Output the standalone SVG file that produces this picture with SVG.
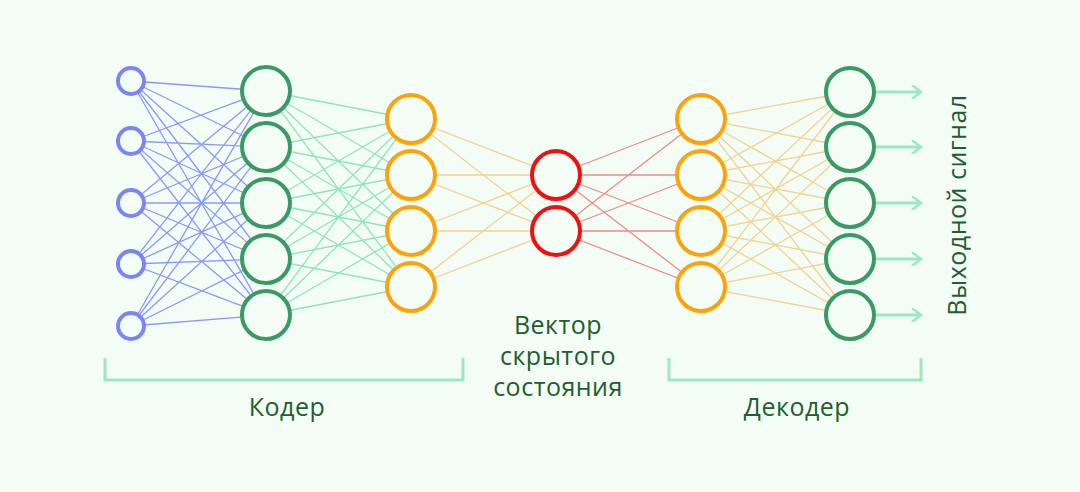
<svg xmlns="http://www.w3.org/2000/svg" width="1080" height="492" viewBox="0 0 1080 492">
<style>
.bg{fill:#f4fdf5}
.n{fill:#f4fdf5;stroke-width:4}
.b{stroke:#7a86f5}.g{stroke:#3a9a64}.o{stroke:#f9a40c}.r{stroke:#ee1111}
.lb{stroke:#8a99f7;stroke-width:1.3}
.lg{stroke:#8ee6b7;stroke-width:1.3}
.lo{stroke:#f1d28f;stroke-width:1.3}
.lr{stroke:#ef8a8a;stroke-width:1.3}
.br{fill:none;stroke:#9de8c0;stroke-width:3}
.t{font-family:"Open Sans",Roboto,"Liberation Sans",sans-serif;font-size:25px;fill:#1d5e2e;text-anchor:middle;letter-spacing:0.5px}
</style>
<defs><marker id="ah" markerWidth="14" markerHeight="14" refX="11" refY="7" orient="auto" markerUnits="userSpaceOnUse"><path d="M2,0 L11,7 L2,14" fill="none" stroke="#9de8c0" stroke-width="2.5"/></marker></defs>
<rect class="bg" width="1080" height="492"/>
<g id="connectors">
<g class="lb">
<path d="M131,81L266,91M131,81L266,147M131,81L266,203M131,81L266,259M131,81L266,315M131,141L266,91M131,141L266,147M131,141L266,203M131,141L266,259M131,141L266,315M131,203L266,91M131,203L266,147M131,203L266,203M131,203L266,259M131,203L266,315M131,264L266,91M131,264L266,147M131,264L266,203M131,264L266,259M131,264L266,315M131,326L266,91M131,326L266,147M131,326L266,203M131,326L266,259M131,326L266,315"/>
</g>
<g class="lg">
<path d="M266,91L411,119M266,91L411,175M266,91L411,231M266,91L411,287M266,147L411,119M266,147L411,175M266,147L411,231M266,147L411,287M266,203L411,119M266,203L411,175M266,203L411,231M266,203L411,287M266,259L411,119M266,259L411,175M266,259L411,231M266,259L411,287M266,315L411,119M266,315L411,175M266,315L411,231M266,315L411,287"/>
</g>
<g class="lo">
<path d="M411,119L556,175M411,119L556,231M411,175L556,175M411,175L556,231M411,231L556,175M411,231L556,231M411,287L556,175M411,287L556,231"/>
<path d="M701,119L850,92M701,119L850,147M701,119L850,203M701,119L850,259M701,119L850,315M701,175L850,92M701,175L850,147M701,175L850,203M701,175L850,259M701,175L850,315M701,231L850,92M701,231L850,147M701,231L850,203M701,231L850,259M701,231L850,315M701,287L850,92M701,287L850,147M701,287L850,203M701,287L850,259M701,287L850,315"/>
</g>
<g class="lr">
<path d="M556,175L701,119M556,175L701,175M556,175L701,231M556,175L701,287M556,231L701,119M556,231L701,175M556,231L701,231M556,231L701,287"/>
</g>
<g stroke="#9de8c0" stroke-width="3" marker-end="url(#ah)">
<line x1="876" y1="92" x2="921" y2="92"/><line x1="876" y1="147" x2="921" y2="147"/><line x1="876" y1="203" x2="921" y2="203"/><line x1="876" y1="259" x2="921" y2="259"/><line x1="876" y1="315" x2="921" y2="315"/>
</g>
</g>
<g id="input"><circle class="n b" cx="131" cy="81" r="13"/><circle class="n b" cx="131" cy="141" r="13"/><circle class="n b" cx="131" cy="203" r="13"/><circle class="n b" cx="131" cy="264" r="13"/><circle class="n b" cx="131" cy="326" r="13"/></g>
<g id="enc1"><circle class="n g" cx="266" cy="91" r="24"/><circle class="n g" cx="266" cy="147" r="24"/><circle class="n g" cx="266" cy="203" r="24"/><circle class="n g" cx="266" cy="259" r="24"/><circle class="n g" cx="266" cy="315" r="24"/></g>
<g id="enc2"><circle class="n o" cx="411" cy="119" r="24"/><circle class="n o" cx="411" cy="175" r="24"/><circle class="n o" cx="411" cy="231" r="24"/><circle class="n o" cx="411" cy="287" r="24"/></g>
<g id="latent"><circle class="n r" cx="556" cy="175" r="24"/><circle class="n r" cx="556" cy="231" r="24"/></g>
<g id="dec1"><circle class="n o" cx="701" cy="119" r="24"/><circle class="n o" cx="701" cy="175" r="24"/><circle class="n o" cx="701" cy="231" r="24"/><circle class="n o" cx="701" cy="287" r="24"/></g>
<g id="dec2"><circle class="n g" cx="850" cy="92" r="24"/><circle class="n g" cx="850" cy="147" r="24"/><circle class="n g" cx="850" cy="203" r="24"/><circle class="n g" cx="850" cy="259" r="24"/><circle class="n g" cx="850" cy="315" r="24"/></g>
<g id="labels">
<path class="br" d="M105,358V380H463V358"/>
<path class="br" d="M669,358V380H921V358"/>
<text class="t" x="287" y="416">Кодер</text>
<text class="t" x="797" y="416">Декодер</text>
<text class="t" x="558" y="334">Вектор</text>
<text class="t" x="558" y="365">скрытого</text>
<text class="t" x="558" y="396">состояния</text>
<text class="t" transform="translate(966,205) rotate(-90)">Выходной сигнал</text>
</g>
</svg>
